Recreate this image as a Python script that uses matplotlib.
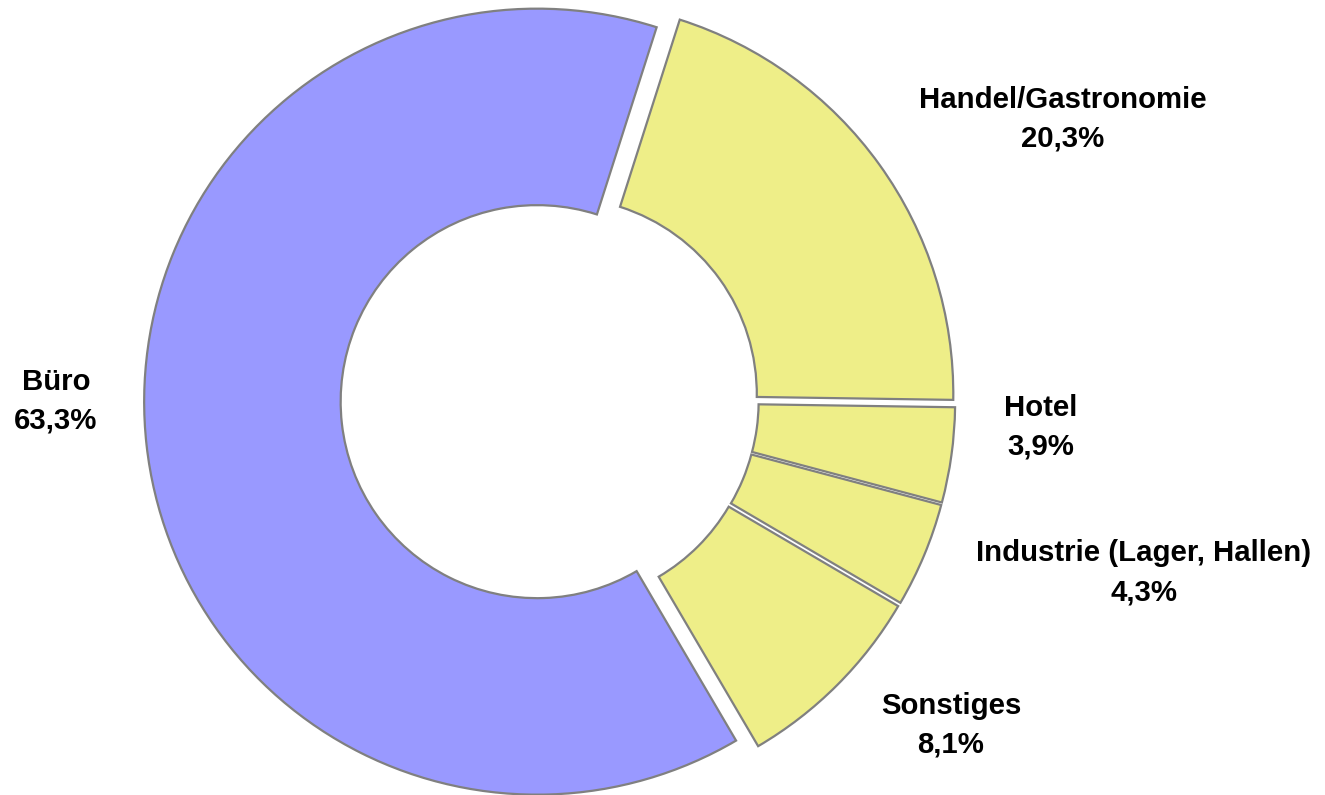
import numpy as np
from matplotlib import pyplot as plt

# shares of floor space by use (clockwise from top right)
categories = ['Handel/Gastronomie', 'Hotel', 'Industrie (Lager, Hallen)', 'Sonstiges', 'Büro']
values = [20.3, 3.9, 4.3, 8.1, 63.3]
value_labels = ['20,3%', '3,9%', '4,3%', '8,1%', '63,3%']

colors = ['#EEEE88', '#EEEE88', '#EEEE88', '#EEEE88', '#9999FF']
explode = [0.026, 0.026, 0.026, 0.026, 0.038]

# label centres in units of the pie radius
label_pos = [(1.300, 0.715), (1.244, -0.069), (1.506, -0.440), (1.015, -0.827), (-1.262, -0.003)]

W, H = 1325, 795
R = 393.0          # outer radius in pixels
cx, cy = 552.0, 400.0  # pie centre in pixels (from top left)

fig = plt.figure(figsize=(W / 100, H / 100), dpi=100)
ax = fig.add_axes([0, 0, 1, 1])

ax.pie(values, colors=colors, explode=explode, startangle=72.3, counterclock=False,
       radius=1.0, wedgeprops=dict(width=0.5, edgecolor='#808080', linewidth=1.6))

for (x, y), name, val in zip(label_pos, categories, value_labels):
    ax.text(x, y, name + '\n' + val, ha='center', va='center', fontsize=21.2,
            fontweight='bold', family='Liberation Sans', linespacing=1.5, color='black')

ax.set_xlim(-cx / R, (W - cx) / R)
ax.set_ylim(-(H - cy) / R, cy / R)
ax.set_aspect('equal', adjustable='box')
ax.axis('off')

fig.savefig('out.png', dpi=100, facecolor='white')
